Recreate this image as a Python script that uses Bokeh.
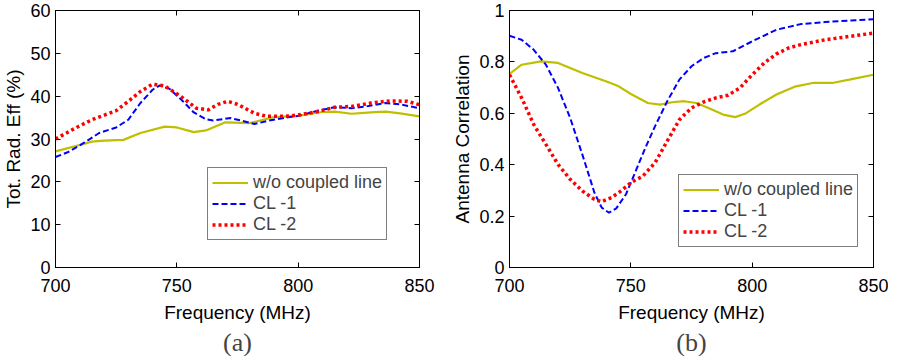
from bokeh.plotting import figure
from bokeh.layouts import row
from bokeh.models import LinearAxis, FixedTicker, Title, Legend, LegendItem, Range1d
from bokeh.embed import file_html
from bokeh.resources import INLINE

# ---- data: panel (a) total radiation efficiency (%) ----
a_wo_f = [700, 710, 715, 720, 728, 735, 745, 750, 757, 762, 770, 780, 790, 800, 810, 815, 822, 830, 836, 842, 850]
a_wo_v = [27.1, 28.6, 29.4, 29.6, 29.8, 31.4, 32.9, 32.7, 31.6, 32.0, 33.9, 33.7, 35.1, 35.4, 36.3, 36.4, 35.9, 36.2, 36.4, 36.0, 35.3]
a_cl1_f = [700, 705, 712, 718, 725, 730, 735, 740, 743, 747, 752, 757, 762, 765, 772, 778, 782, 788, 795, 800, 808, 815, 822, 828, 836, 842, 850]
a_cl1_v = [25.8, 26.9, 29.2, 31.4, 32.7, 34.5, 38.4, 41.5, 42.5, 41.7, 39.1, 36.2, 34.6, 34.3, 34.9, 34.1, 33.5, 34.3, 35.0, 35.4, 36.6, 37.4, 37.2, 37.6, 38.4, 38.1, 37.2]
a_cl2_f = [700, 708, 715, 725, 730, 735, 740, 745, 752, 758, 763, 767, 771, 775, 782, 787, 795, 800, 808, 815, 822, 830, 838, 845, 850]
a_cl2_v = [30.0, 32.5, 34.5, 36.6, 38.8, 41.1, 42.8, 42.4, 39.8, 37.2, 36.8, 38.1, 38.8, 38.1, 36.0, 35.3, 35.3, 35.6, 36.4, 37.4, 37.6, 38.4, 38.9, 38.8, 38.0]

# ---- data: panel (b) antenna correlation ----
b_wo_f = [700, 705, 713, 720, 730, 740, 745, 750, 757, 762, 767, 772, 777, 782, 788, 793, 797, 803, 810, 818, 825, 833, 840, 850]
b_wo_v = [0.753, 0.789, 0.802, 0.796, 0.757, 0.724, 0.705, 0.675, 0.640, 0.634, 0.643, 0.647, 0.640, 0.621, 0.595, 0.585, 0.598, 0.634, 0.673, 0.705, 0.718, 0.718, 0.731, 0.750]
b_cl1_f = [700, 705, 710, 715, 720, 725, 730, 735, 738, 741, 744, 748, 752, 756, 760, 765, 770, 775, 780, 785, 792, 800, 810, 820, 830, 840, 850]
b_cl1_v = [0.902, 0.886, 0.847, 0.789, 0.699, 0.582, 0.440, 0.291, 0.233, 0.213, 0.230, 0.285, 0.375, 0.466, 0.550, 0.647, 0.731, 0.783, 0.815, 0.834, 0.841, 0.880, 0.925, 0.947, 0.955, 0.961, 0.966]
b_cl2_f = [700, 705, 710, 715, 720, 725, 730, 735, 738, 742, 746, 750, 755, 760, 765, 770, 775, 780, 785, 790, 795, 800, 805, 810, 815, 820, 830, 840, 850]
b_cl2_v = [0.750, 0.660, 0.556, 0.479, 0.401, 0.343, 0.298, 0.265, 0.256, 0.272, 0.298, 0.330, 0.356, 0.408, 0.492, 0.575, 0.621, 0.644, 0.660, 0.670, 0.699, 0.750, 0.796, 0.831, 0.854, 0.867, 0.886, 0.899, 0.912]

series_names = ["w/o coupled line", "CL -1", "CL -2"]
a_yticks = [0, 10, 20, 30, 40, 50, 60]
b_yticks = [0, 0.2, 0.4, 0.6, 0.8, 1]
xticks = [700, 750, 800, 850]

FONT = "Liberation Sans"
YEL, BLU, RED = "#BFBF00", "#0000FF", "#FF0000"


def make_panel(series, yrange, yticks, ylabel, caption, overrides, mb_left, mb_right, legend_loc):
    p = figure(x_range=Range1d(700, 850), y_range=Range1d(*yrange),
               frame_width=364, frame_height=257,
               min_border_left=mb_left, min_border_right=mb_right,
               min_border_top=10, min_border_bottom=0,
               output_backend="svg", toolbar_location=None,
               x_axis_label="Frequency (MHz)", y_axis_label=ylabel)
    p.grid.visible = False
    p.outline_line_color = "black"
    p.outline_line_width = 1
    p.background_fill_color = "white"

    items = []
    styles = [dict(color=YEL, line_width=2.2),
              dict(color=BLU, line_width=2, line_dash="6 3"),
              dict(color=RED, line_width=3.5, line_dash="3 3")]
    for (xs, ys), name, st in zip(series, series_names, styles):
        r = p.line(xs, ys, **st)
        items.append(LegendItem(label=name, renderers=[r]))

    for ax in p.xaxis:
        ax.ticker = FixedTicker(ticks=xticks)
    for ax in p.yaxis:
        ax.ticker = FixedTicker(ticks=yticks)
        ax.major_label_overrides = overrides
    for ax in list(p.xaxis) + list(p.yaxis):
        ax.major_tick_in = 5
        ax.major_tick_out = 0
        ax.minor_tick_line_color = None
        ax.axis_line_color = "black"
        ax.major_label_text_font = FONT
        ax.major_label_text_font_size = "18px"
        ax.major_label_text_color = "black"
        ax.axis_label_text_font = FONT
        ax.axis_label_text_font_size = "19px"
        ax.axis_label_text_font_style = "normal"
        ax.axis_label_text_color = "black"
    for ax in p.xaxis:
        ax.major_label_standoff = 11
        ax.axis_label_standoff = 7
    for ax in p.yaxis:
        ax.major_label_standoff = 5
        ax.axis_label_standoff = 3

    # mirrored tick axes (box style), no labels
    top = LinearAxis(ticker=FixedTicker(ticks=xticks),
                     major_label_overrides={t: "" for t in xticks},
                     major_tick_in=5, major_tick_out=0, minor_tick_line_color=None,
                     major_label_standoff=0)
    right = LinearAxis(ticker=FixedTicker(ticks=yticks),
                       major_label_overrides={t: "" for t in yticks},
                       major_tick_in=5, major_tick_out=0, minor_tick_line_color=None,
                       major_label_standoff=0)
    p.add_layout(top, "above")
    p.add_layout(right, "right")

    leg = Legend(items=items, location=legend_loc,
                 label_text_font=FONT, label_text_font_size="18px",
                 glyph_width=36, glyph_height=19, label_height=19,
                 spacing=0, padding=4, margin=0, label_standoff=5,
                 border_line_color="black", border_line_width=1.5,
                 background_fill_color="white", background_fill_alpha=1)
    p.add_layout(leg, "center")

    t = Title(text=caption, align="center", text_font="Liberation Serif",
              text_font_size="26px", text_font_style="normal", standoff=0, offset=8,
              text_line_height=0.8)
    p.add_layout(t, "below")
    return p


pa = make_panel([(a_wo_f, a_wo_v), (a_cl1_f, a_cl1_v), (a_cl2_f, a_cl2_v)],
                (0, 60), a_yticks, "Tot. Rad. Eff (%)", "(a)", {}, 50, 30, (152, 27))
pb = make_panel([(b_wo_f, b_wo_v), (b_cl1_f, b_cl1_v), (b_cl2_f, b_cl2_v)],
                (0, 1), b_yticks, "Antenna Correlation", "(b)", {0: "0", 1: "1"}, 56, 15, (169, 20))

layout = row(pa, pb)
open("out.html", "w").write(file_html(layout, INLINE))
